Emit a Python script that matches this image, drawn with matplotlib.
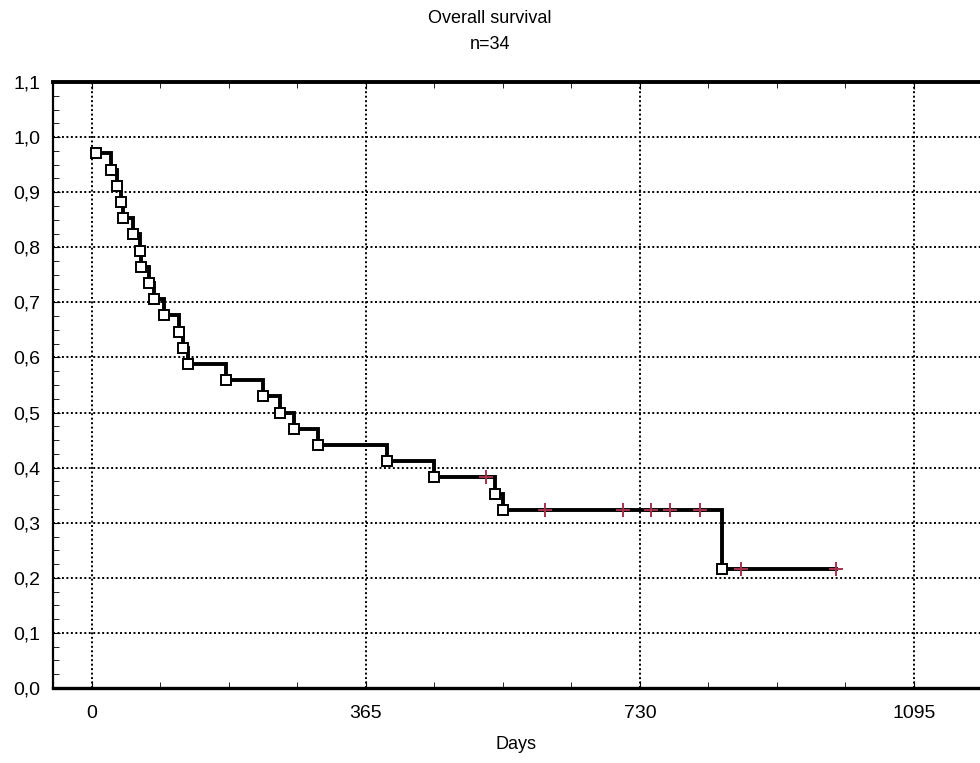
import matplotlib
matplotlib.use("Agg")
import matplotlib.pyplot as plt
from matplotlib.ticker import FixedLocator, FuncFormatter

# Kaplan-Meier steps (day of event, survival after event)
event_days = [5, 26, 33, 39, 41, 55, 64, 66, 76, 82, 96, 116, 121, 128,
              178, 228, 250, 269, 301, 393, 455, 537, 548, 839]
event_surv = [0.9706, 0.9412, 0.9118, 0.8824, 0.8529, 0.8235, 0.7941, 0.7647,
              0.7353, 0.7059, 0.6765, 0.6471, 0.6176, 0.5882, 0.5588, 0.5294,
              0.5000, 0.4706, 0.4412, 0.4118, 0.3824, 0.3529, 0.3235, 0.2157]

# censored observations
censor_days = [525, 603, 708, 745, 770, 810, 864, 991]
censor_surv = [0.3824, 0.3235, 0.3235, 0.3235, 0.3235, 0.3235, 0.2157, 0.2157]

title_lines = ["Overall survival", "n=34"]
x_ticks = [0, 365, 730, 1095]
y_ticks = [0.0, 0.1, 0.2, 0.3, 0.4, 0.5, 0.6, 0.7, 0.8, 0.9, 1.0, 1.1]

plt.rcParams['font.family'] = ['Liberation Sans', 'DejaVu Sans']

fig = plt.figure(figsize=(9.8, 7.63), dpi=100)
ax = fig.add_axes([0.054, 0.0983, 0.946, 0.7942])

# step curve: horizontal from each event to the next, then drop
xs, ys = [], []
for i, (d, s) in enumerate(zip(event_days, event_surv)):
    if i > 0:
        xs.append(d)
        ys.append(event_surv[i - 1])
    xs.append(d)
    ys.append(s)
xs.append(censor_days[-1])
ys.append(event_surv[-1])
ax.plot(xs, ys, color='black', lw=2.8, solid_joinstyle='miter', zorder=3)

ax.plot(event_days, event_surv, linestyle='none', marker='s', markersize=6.5,
        markerfacecolor='white', markeredgecolor='black', markeredgewidth=1.4, zorder=4)
ax.plot(censor_days, censor_surv, linestyle='none', marker='+', markersize=10,
        markeredgecolor='#a8324e', markeredgewidth=1.4, zorder=5)

ax.set_xlim(-52, 1183)
ax.set_ylim(0, 1.1)

ax.xaxis.set_major_locator(FixedLocator(x_ticks))
ax.xaxis.set_minor_locator(FixedLocator([i * 91.25 for i in range(-1, 14)]))
ax.yaxis.set_major_locator(FixedLocator(y_ticks))
ax.yaxis.set_minor_locator(FixedLocator([i * 0.025 for i in range(0, 45)]))
ax.yaxis.set_major_formatter(FuncFormatter(lambda v, p: f"{v:.1f}".replace('.', ',')))

ax.grid(True, which='major', color='black', linestyle=(0, (1, 1.3)), lw=1.4)
ax.tick_params(which='both', direction='in', top=True, right=False, labelsize=14)
ax.tick_params(which='major', length=5)
ax.tick_params(which='minor', length=4)
ax.tick_params(axis='x', pad=12)
ax.tick_params(axis='y', pad=9)

ax.spines['right'].set_visible(False)
ax.spines['top'].set_linewidth(2.8)
ax.spines['bottom'].set_linewidth(2.4)
ax.spines['left'].set_linewidth(1.6)

ax.set_xlabel("Days", fontsize=13, labelpad=10)
fig.text(0.5, 0.976, title_lines[0], ha='center', va='center', fontsize=13)
fig.text(0.5, 0.942, title_lines[1], ha='center', va='center', fontsize=13)

fig.savefig('out.png', dpi=100)
